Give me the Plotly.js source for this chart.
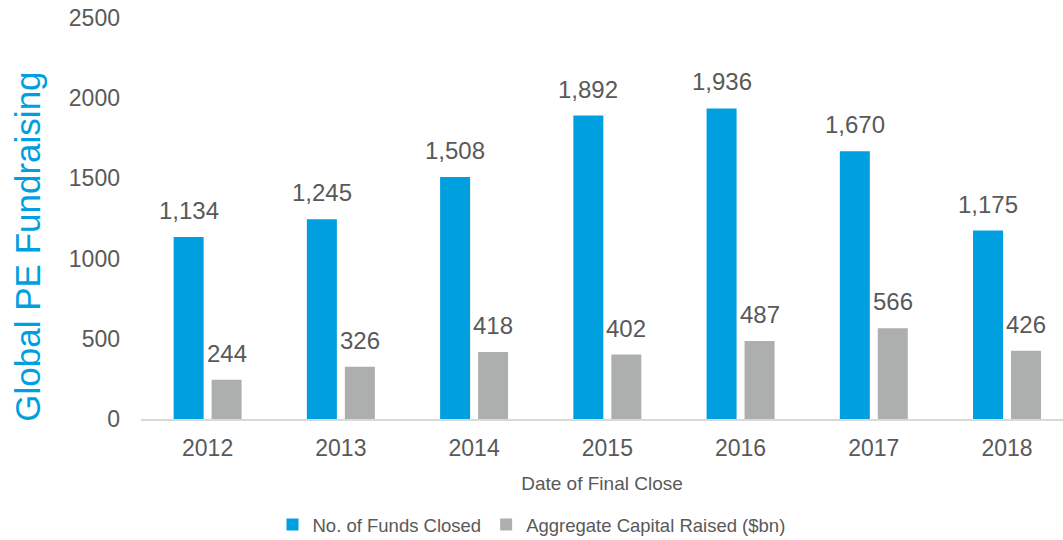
<!DOCTYPE html>
<html>
<head>
<meta charset="utf-8">
<script src="https://cdn.plot.ly/plotly-3.0.1.min.js"></script>
<style>
  html, body { margin: 0; padding: 0; background: #fff; }
  #chart { width: 1063px; height: 540px; }
</style>
</head>
<body>
<div id="chart"></div>
<script>
// Values
const years = ['2012', '2013', '2014', '2015', '2016', '2017', '2018'];
const fundsClosed = [1134, 1245, 1508, 1892, 1936, 1670, 1175];
const capitalRaised = [244, 326, 418, 402, 487, 566, 426];
const yTicks = [0, 500, 1000, 1500, 2000, 2500];

const textColor = '#595959';
const blue = '#009FDF';
const grey = '#ADAFAE';
const font = 'Liberation Sans, Arial, sans-serif';

const data = [{
    type: 'bar',
    name: 'No. of Funds Closed',
    x: years,
    y: fundsClosed,
    marker: { color: blue, line: { width: 0 } },
    hoverinfo: 'x+y'
}, {
    type: 'bar',
    name: 'Aggregate Capital Raised ($bn)',
    x: years,
    y: capitalRaised,
    marker: { color: grey, line: { width: 0 } },
    hoverinfo: 'x+y'
}];

// Value labels above each bar (x given as category index, since
// numeric-looking category names are read as positions)
const fmt = v => v.toLocaleString('en-US');
const annotations = [];
years.forEach((yr, i) => {
    annotations.push({
        x: i, y: fundsClosed[i], xref: 'x', yref: 'y',
        text: fmt(fundsClosed[i]), showarrow: false,
        xshift: -19, yshift: 11, yanchor: 'bottom',
        font: { family: font, size: 24, color: textColor }
    });
    annotations.push({
        x: i, y: capitalRaised[i], xref: 'x', yref: 'y',
        text: fmt(capitalRaised[i]), showarrow: false,
        xshift: 19, yshift: 11, yanchor: 'bottom',
        font: { family: font, size: 24, color: textColor }
    });
});

// y axis title sits a bit below the plot centre in the original
annotations.push({
    xref: 'paper', yref: 'paper',
    x: -0.1225, y: 0.43,
    xanchor: 'center', yanchor: 'middle',
    textangle: -90, showarrow: false,
    text: 'Global PE Fundraising',
    font: { family: font, size: 35, color: blue }
});

const layout = {
    width: 1063,
    height: 540,
    margin: { l: 141, r: 0, t: 18, b: 121, pad: 0 },
    paper_bgcolor: '#fff',
    plot_bgcolor: '#fff',
    font: { family: font, color: textColor },
    barmode: 'group',
    bargap: 0.43,
    bargroupgap: 0.21,
    xaxis: {
        type: 'category',
        range: [-0.5, 6.42],
        showline: true,
        linecolor: '#D9D9D9',
        linewidth: 2,
        showgrid: false,
        zeroline: false,
        ticks: '',
        ticklabelstandoff: 7,
        tickfont: { family: font, size: 23, color: textColor },
        title: { text: 'Date of Final Close', font: { family: font, size: 19, color: textColor }, standoff: 17 }
    },
    yaxis: {
        range: [0, 2500],
        tickvals: yTicks,
        ticktext: yTicks.map(String),
        showline: false,
        showgrid: false,
        zeroline: false,
        ticks: '',
        ticklabelstandoff: 20,
        tickfont: { family: font, size: 23, color: textColor }
    },
    showlegend: true,
    legend: {
        orientation: 'h',
        xref: 'container',
        yref: 'container',
        x: 0.5,
        xanchor: 'center',
        y: 0.028,
        yanchor: 'middle',
        font: { family: font, size: 18.5, color: textColor },
        itemwidth: 30,
        traceorder: 'normal'
    },
    annotations: annotations
};

Plotly.newPlot('chart', data, layout, { displayModeBar: false, staticPlot: true });
</script>
</body>
</html>
